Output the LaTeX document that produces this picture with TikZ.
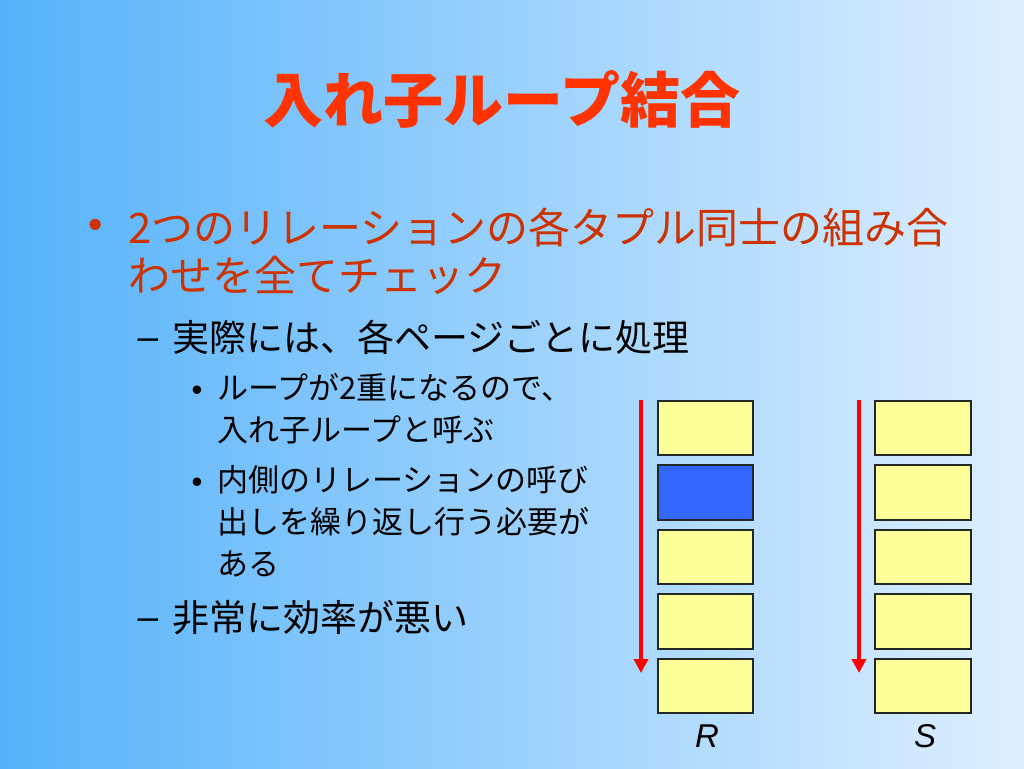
\documentclass[tikz,border=0pt]{standalone}
\usepackage{fontspec}
\usetikzlibrary{arrows.meta}
\newfontfamily\jp{Noto Sans CJK JP}
\newfontfamily\lat{Liberation Sans}
\definecolor{bgleft}{RGB}{85,178,250}
\definecolor{bgright}{RGB}{222,239,255}
\definecolor{titlered}{RGB}{255,51,0}
\definecolor{itemred}{RGB}{204,51,0}
\definecolor{pageyellow}{RGB}{255,255,153}
\definecolor{pageblue}{RGB}{51,102,255}
\definecolor{pageline}{RGB}{35,40,35}
\definecolor{arrowred}{RGB}{255,0,0}

\begin{document}
\begin{tikzpicture}[x=1pt,y=-1pt,
  pagebox/.style={draw=pageline,line width=2pt,fill=pageyellow,
    minimum width=95.5pt,minimum height=54.5pt,inner sep=0pt},
  scanarrow/.style={draw=arrowred,line width=3.5pt,
    -{Triangle[length=14pt,width=14pt]}},
  lvlone/.style={anchor=west,inner sep=0pt,align=left,text=itemred,
    font=\jp\fontsize{42}{48}\selectfont},
  lvltwo/.style={anchor=west,inner sep=0pt,align=left,text=black,
    font=\jp\fontsize{37}{44}\selectfont},
  lvlthree/.style={anchor=west,inner sep=0pt,align=left,text=black,
    font=\jp\fontsize{31}{42}\selectfont},
  relname/.style={inner sep=0pt,font=\lat\itshape\fontsize{33}{36}\selectfont}]
\shade[left color=bgleft,right color=bgright] (0,0) rectangle (1024,768);

\node[text=titlered,font=\jp\bfseries\fontsize{60}{66}\selectfont] (title) at (502,99) {入れ子ループ結合};

\node[text=itemred,font=\lat\fontsize{41}{48}\selectfont] (dotA) at (96,229) {•};
\node[lvlone] (itemA) at (128,251) {2つのリレーションの各タプル同士の組み合\\わせを全てチェック};
\node[font=\lat\fontsize{37}{44}\selectfont] (dashA) at (148,344) {–};
\node[lvltwo] (itemAa) at (172,337) {実際には、各ページごとに処理};
\node[font=\lat\fontsize{31}{42}\selectfont] (dotAa1) at (197,393) {•};
\node[lvlthree] (itemAa1) at (217,409) {ループが2重になるので、\\入れ子ループと呼ぶ};
\node[font=\lat\fontsize{31}{42}\selectfont] (dotAa2) at (197,485) {•};
\node[lvlthree] (itemAa2) at (217,521.5) {内側のリレーションの呼び\\出しを繰り返し行う必要が\\ある};
\node[font=\lat\fontsize{37}{44}\selectfont] (dashB) at (148,624) {–};
\node[lvltwo] (itemAb) at (172,618) {非常に効率が悪い};

\node[pagebox] (R1) at (705.5,428) {};
\node[pagebox,fill=pageblue] (R2) at (705.5,492.5) {};
\node[pagebox] (R3) at (705.5,557) {};
\node[pagebox] (R4) at (705.5,621.5) {};
\node[pagebox] (R5) at (705.5,686) {};
\node[pagebox] (S1) at (923,428) {};
\node[pagebox] (S2) at (923,492.5) {};
\node[pagebox] (S3) at (923,557) {};
\node[pagebox] (S4) at (923,621.5) {};
\node[pagebox] (S5) at (923,686) {};

\node[relname] (labR) at (707,736) {R};
\node[relname] (labS) at (925,736) {S};

\coordinate (Rtop) at (641,400);
\coordinate (Rend) at (641,673);
\coordinate (Stop) at (859,400);
\coordinate (Send) at (859,673);
\draw[scanarrow] (Rtop) -- (Rend);
\draw[scanarrow] (Stop) -- (Send);
\end{tikzpicture}
\end{document}
